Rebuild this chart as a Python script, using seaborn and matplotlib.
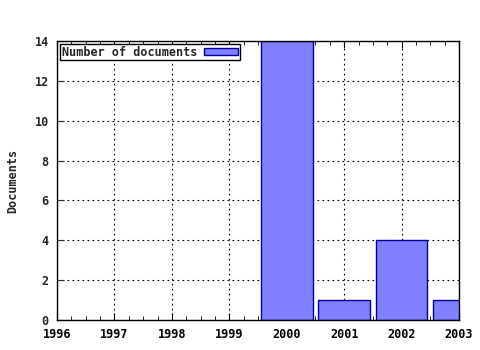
import matplotlib
matplotlib.use("Agg")
import matplotlib.pyplot as plt
import seaborn as sns
import pandas as pd
from matplotlib.ticker import MultipleLocator
from matplotlib.patches import Patch

years = [2000, 2001, 2002, 2003]
docs = [14, 1, 4, 1]
xticks = [1996, 1997, 1998, 1999, 2000, 2001, 2002, 2003]
yticks = [0, 2, 4, 6, 8, 10, 12, 14]

sns.set_style("white")
plt.rcParams['font.family'] = ['DejaVu Sans Mono', 'DejaVu Sans']
plt.rcParams['font.weight'] = 'bold'

df = pd.DataFrame({"year": years, "docs": docs})

fig = plt.figure(figsize=(4.8, 3.5), dpi=100)
ax = fig.add_axes([57/480, 1-320/350, (459-57)/480, (320-41)/350])
sns.barplot(data=df, x="year", y="docs", native_scale=True, width=0.9,
            color="#8080ff", saturation=1, edgecolor="#0000a0", linewidth=1.0, ax=ax)
ax.set_xlim(1996, 2003)
ax.set_ylim(0, 14)
ax.set_xticks(xticks)
ax.set_xticklabels([str(t) for t in xticks])
ax.set_yticks(yticks)
ax.xaxis.set_minor_locator(MultipleLocator(0.25))
ax.grid(True, which='major', linestyle=(0, (1.5, 3)), color='black', linewidth=0.8)
ax.set_axisbelow(True)
ax.tick_params(axis='x', which='both', direction='in', top=True, bottom=True,
               labelsize=8.5, pad=6, colors='black')
ax.tick_params(axis='x', which='major', length=5)
ax.tick_params(axis='x', which='minor', length=3)
ax.tick_params(axis='y', which='major', direction='in', left=True, right=False,
               length=5, labelsize=8.5, pad=6)
for lab in ax.get_xticklabels() + ax.get_yticklabels():
    lab.set_fontweight('bold')
for s in ax.spines.values():
    s.set_color('black')
    s.set_linewidth(1.0)
ax.set_xlabel("")
ax.set_ylabel("Documents", fontsize=8.5, fontweight='bold', labelpad=11)
handle = Patch(facecolor="#8080ff", edgecolor="#0000a0", linewidth=1.0)
leg = ax.legend([handle], ["Number of documents"], loc='upper left', markerfirst=False,
                frameon=True, fancybox=False, framealpha=1, edgecolor='black',
                prop={'size': 8.5, 'weight': 'bold'}, borderpad=0.15, borderaxespad=0.25,
                handlelength=2.9, handleheight=0.6, handletextpad=0.6)
leg.get_frame().set_linewidth(1.0)
fig.savefig("out.png", dpi=100)
